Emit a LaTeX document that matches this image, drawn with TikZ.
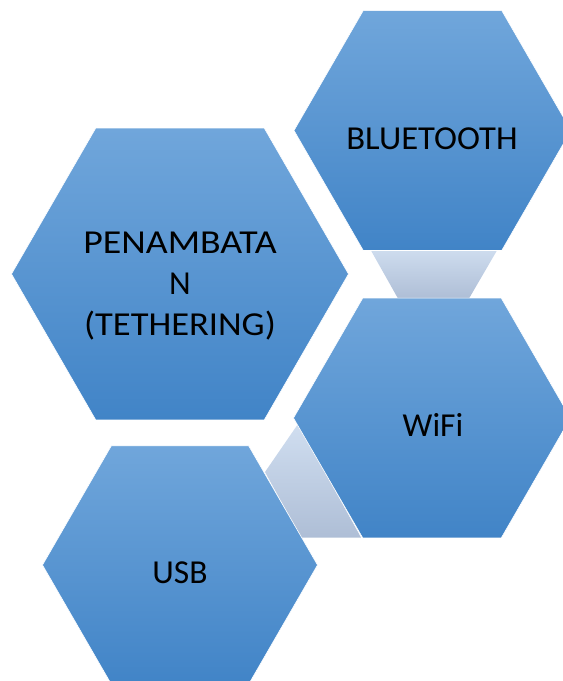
\documentclass[tikz,border=0pt]{standalone}
\usepackage{fontspec}
\usepackage{graphicx}
\setmainfont{Carlito}
\definecolor{hexTop}{RGB}{112,166,219}
\definecolor{hexBot}{RGB}{65,132,199}
\definecolor{linkTop}{RGB}{208,222,240}
\definecolor{linkBot}{RGB}{174,190,214}
\begin{document}
\begin{tikzpicture}[x=1pt,y=-1pt,
  hexfill/.style={top color=hexTop, bottom color=hexBot, draw=white, line width=0.6pt},
  linkfill/.style={top color=linkTop, bottom color=linkBot},
  lbl/.style={font=\fontsize{33.5}{41}\selectfont, text=black, inner sep=0pt, anchor=base}]
\useasboundingbox (0,0) rectangle (563,681);
\clip (0,0) rectangle (563,681);
% connectors (behind)
\path[linkfill] (369,247) -- (499,247) -- (469,298.5) -- (398,298.5) -- cycle;
\path[linkfill] (298,424) -- (361,537.5) -- (301,537.5) -- (265,472) -- cycle;
% hexagon centres
\coordinate (bt) at (432.5,130.5);
\coordinate (pen) at (180,274);
\coordinate (wifi) at (432,418);
\coordinate (usb) at (180,565);
% hexagons
\path[hexfill,shift={(bt)}] (0:138.5) -- (60:138.5) -- (120:138.5) -- (180:138.5) -- (240:138.5) -- (300:138.5) -- cycle;
\path[hexfill,shift={(pen)}] (0:168.5) -- (60:168.5) -- (120:168.5) -- (180:168.5) -- (240:168.5) -- (300:168.5) -- cycle;
\path[hexfill,shift={(wifi)}] (0:138.5) -- (60:138.5) -- (120:138.5) -- (180:138.5) -- (240:138.5) -- (300:138.5) -- cycle;
\path[hexfill,shift={(usb)}] (0:137.5) -- (60:137.5) -- (120:137.5) -- (180:137.5) -- (240:137.5) -- (300:137.5) -- cycle;
% labels
\node[lbl] (btl) at (432,149) {\scalebox{1.035}[1]{BLUETOOTH}};
\node[lbl] (pen1) at (180,253) {\scalebox{1.13}[1]{PENAMBATA}};
\node[lbl] (pen2) at (180,294.5) {N};
\node[lbl] (pen3) at (180,335) {\scalebox{1.09}[1]{(TETHERING)}};
\node[lbl] (wifil) at (433,436.5) {WiFi};
\node[lbl] (usbl) at (180,583) {USB};
\end{tikzpicture}
\end{document}
